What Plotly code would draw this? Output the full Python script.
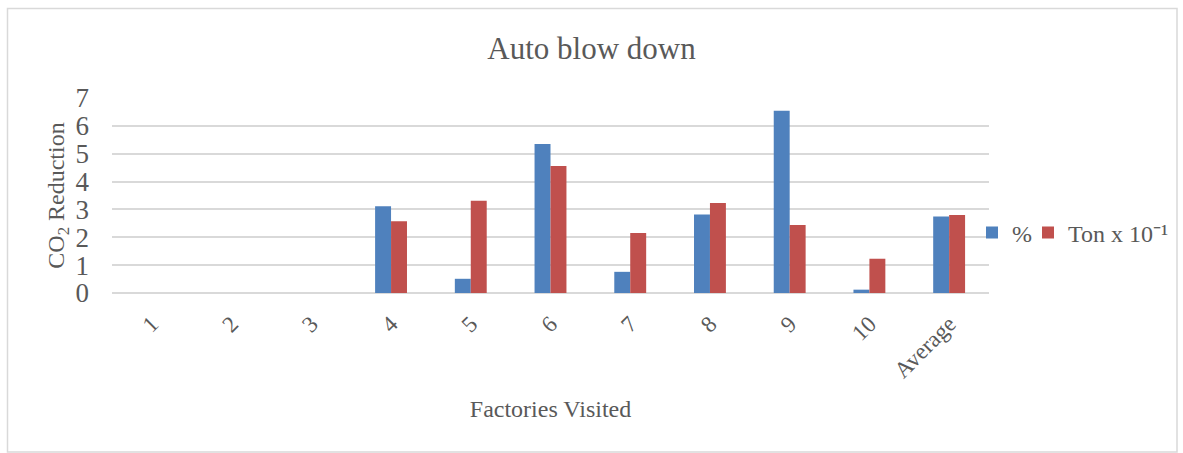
import plotly.graph_objects as go

# Factories visited and CO2 reduction per factory
factories = ["1", "2", "3", "4", "5", "6", "7", "8", "9", "10", "Average"]
pct_values = [0, 0, 0, 3.11, 0.51, 5.35, 0.76, 2.82, 6.54, 0.12, 2.75]
ton_values = [0, 0, 0, 2.58, 3.31, 4.56, 2.15, 3.23, 2.44, 1.23, 2.80]
y_ticks = [0, 1, 2, 3, 4, 5, 6, 7]

FONT = "Liberation Serif, Times New Roman, serif"
TEXT = "#595959"

W, H = 1183, 453
ML, MR, MT, MB = 112, 194, 98, 160
PW, PH = W - ML - MR, H - MT - MB


def px_x(p):
    return (p - ML) / PW


def px_y(q):
    return (H - MB - q) / PH


fig = go.Figure()
fig.add_trace(go.Bar(
    x=factories, y=pct_values, name="%", legend="legend",
    marker=dict(color="#4F81BD", line=dict(width=0)),
))
fig.add_trace(go.Bar(
    x=factories, y=ton_values, name="Ton x 10\u207b\u00b9", legend="legend2",
    marker=dict(color="#C0504D", line=dict(width=0)),
))

legend_style = dict(
    orientation="h", xanchor="left", y=px_y(233), yanchor="middle",
    font=dict(family=FONT, size=24, color=TEXT),
    itemwidth=30, bgcolor="rgba(0,0,0,0)",
)

fig.update_layout(
    width=W, height=H,
    margin=dict(l=ML, r=MR, t=MT, b=MB, autoexpand=False),
    paper_bgcolor="white", plot_bgcolor="white",
    barmode="group", bargap=0.6, bargroupgap=0,
    font=dict(family=FONT, color=TEXT),
    title=dict(text="Auto blow down", x=0.5, xanchor="center",
               y=1 - 48 / H, yanchor="middle",
               font=dict(family=FONT, size=31, color=TEXT)),
    xaxis=dict(
        type="category", tickangle=-45,
        tickfont=dict(family=FONT, size=23, color=TEXT),
        showgrid=False, showline=False, ticks="",
        ticklabelstandoff=12,
        title=dict(text="Factories Visited", standoff=18,
                   font=dict(family=FONT, size=24, color=TEXT)),
    ),
    yaxis=dict(
        range=[0, 7], tickvals=y_ticks, ticks="",
        tickfont=dict(family=FONT, size=27, color=TEXT),
        showgrid=True, gridcolor="#D9D9D9", gridwidth=1.5,
        zeroline=True, zerolinecolor="#D9D9D9", zerolinewidth=1.5,
        showline=False, ticklabelstandoff=22,
        title=dict(text="CO<sub>2</sub> Reduction", standoff=4,
                   font=dict(family=FONT, size=24, color=TEXT)),
    ),
    legend=dict(x=px_x(972), **legend_style),
    legend2=dict(x=px_x(1028), **legend_style),
    showlegend=True,
)

# Chart frame
fig.add_shape(
    type="rect", xref="paper", yref="paper",
    x0=px_x(7.5), x1=px_x(1177), y0=px_y(452), y1=px_y(8.5),
    line=dict(color="#D9D9D9", width=1.5), fillcolor="rgba(0,0,0,0)",
    layer="below",
)

fig.write_html("out.html")
